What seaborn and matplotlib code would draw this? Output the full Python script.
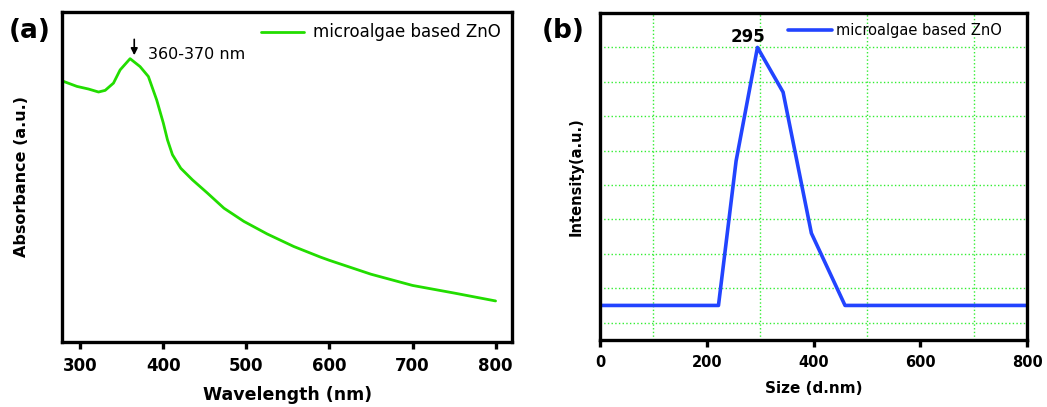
import matplotlib
matplotlib.use('Agg')
import matplotlib.pyplot as plt
import seaborn as sns
import pandas as pd
from matplotlib.ticker import MultipleLocator, FixedLocator

# (a) UV-vis absorbance
wavelength = [280, 296, 310, 322, 330, 340, 348, 360, 372, 382, 392, 400, 405,
              411, 421, 435, 453, 473, 497, 525, 557, 589, 600, 650, 700, 750, 800]
absorbance = [0.789, 0.774, 0.766, 0.757, 0.762, 0.784, 0.824, 0.858, 0.834,
              0.804, 0.733, 0.663, 0.612, 0.567, 0.526, 0.491, 0.451, 0.405,
              0.365, 0.327, 0.289, 0.257, 0.247, 0.205, 0.171, 0.148, 0.124]

# (b) DLS size distribution
size_nm = [0, 222, 255, 295, 343, 396, 459, 800]
intensity = [0.5, 0.5, 4.7, 8.0, 6.7, 2.6, 0.5, 0.5]

label = 'microalgae based ZnO'

sns.set_style('white')
plt.rcParams['font.family'] = ['DejaVu Sans']
plt.rcParams['text.color'] = 'black'
plt.rcParams['axes.labelcolor'] = 'black'
plt.rcParams['xtick.color'] = 'black'

fig = plt.figure(figsize=(10.47, 4.07), dpi=100)
ax1 = fig.add_axes([0.0592, 0.160, 0.430, 0.811])
ax2 = fig.add_axes([0.573, 0.165, 0.408, 0.803])

df_a = pd.DataFrame({'Wavelength': wavelength, 'Absorbance': absorbance})
df_b = pd.DataFrame({'Size': size_nm, 'Intensity': intensity})

sns.lineplot(data=df_a, x='Wavelength', y='Absorbance', ax=ax1,
             color='#22dd00', linewidth=2, label=label)
sns.lineplot(data=df_b, x='Size', y='Intensity', ax=ax2,
             color='#2244ff', linewidth=2.6, label=label)

for ax in (ax1, ax2):
    for sp in ax.spines.values():
        sp.set_linewidth(2.4)
        sp.set_color('black')
    ax.tick_params(axis='x', which='major', direction='out', length=5, width=2.4,
                   bottom=True, pad=6)
    ax.tick_params(axis='y', left=False, labelleft=False)

ax1.tick_params(axis='x', labelsize=12)
ax2.tick_params(axis='x', labelsize=10.5)
ax1.legend(loc='upper right', frameon=False, fontsize=12,
           handlelength=2.6, handletextpad=0.5, borderaxespad=0.3)
ax2.legend(loc='upper right', frameon=False, fontsize=10.5,
           handlelength=3.0, handletextpad=0.3, borderaxespad=0.3,
           bbox_to_anchor=(0.965, 1.0))

# panel (a)
ax1.set_xlim(278, 820)
ax1.set_ylim(0, 1.0)
ax1.xaxis.set_major_locator(MultipleLocator(100))
ax1.set_xlabel('Wavelength (nm)', fontsize=12.5, fontweight='bold', labelpad=8)
ax1.set_ylabel('Absorbance (a.u.)', fontsize=11.5, fontweight='bold', labelpad=24)
ax1.annotate('', xy=(365, 0.86), xytext=(365, 0.925),
             arrowprops=dict(arrowstyle='-|>', color='black', lw=1.2,
                             mutation_scale=10))
ax1.text(382, 0.87, '360-370 nm', fontsize=11.5, va='center', ha='left')
fig.text(0.008, 0.925, '(a)', fontsize=19, fontweight='bold', va='center')

# panel (b)
ax2.set_xlim(0, 800)
ax2.set_ylim(-0.5, 9.0)
ax2.xaxis.set_major_locator(MultipleLocator(200))
ax2.xaxis.set_minor_locator(FixedLocator([100, 300, 500, 700]))
ax2.yaxis.set_major_locator(MultipleLocator(1))
ax2.tick_params(axis='x', which='minor', length=0)
ax2.grid(True, which='minor', axis='x', color='#33ee33', linestyle=':', linewidth=1)
ax2.grid(True, which='major', axis='y', color='#33ee33', linestyle=':', linewidth=1)
ax2.set_axisbelow(True)
ax2.set_xlabel('Size (d.nm)', fontsize=11, fontweight='bold', labelpad=8)
ax2.set_ylabel('Intensity(a.u.)', fontsize=10.5, fontweight='bold', labelpad=12)
ax2.text(278, 8.05, '295', fontsize=12, fontweight='bold', ha='center', va='bottom')
fig.text(0.517, 0.925, '(b)', fontsize=19, fontweight='bold', va='center')

for ax in (ax1, ax2):
    for t in ax.get_xticklabels():
        t.set_fontweight('bold')

fig.savefig('out.png', dpi=100)
